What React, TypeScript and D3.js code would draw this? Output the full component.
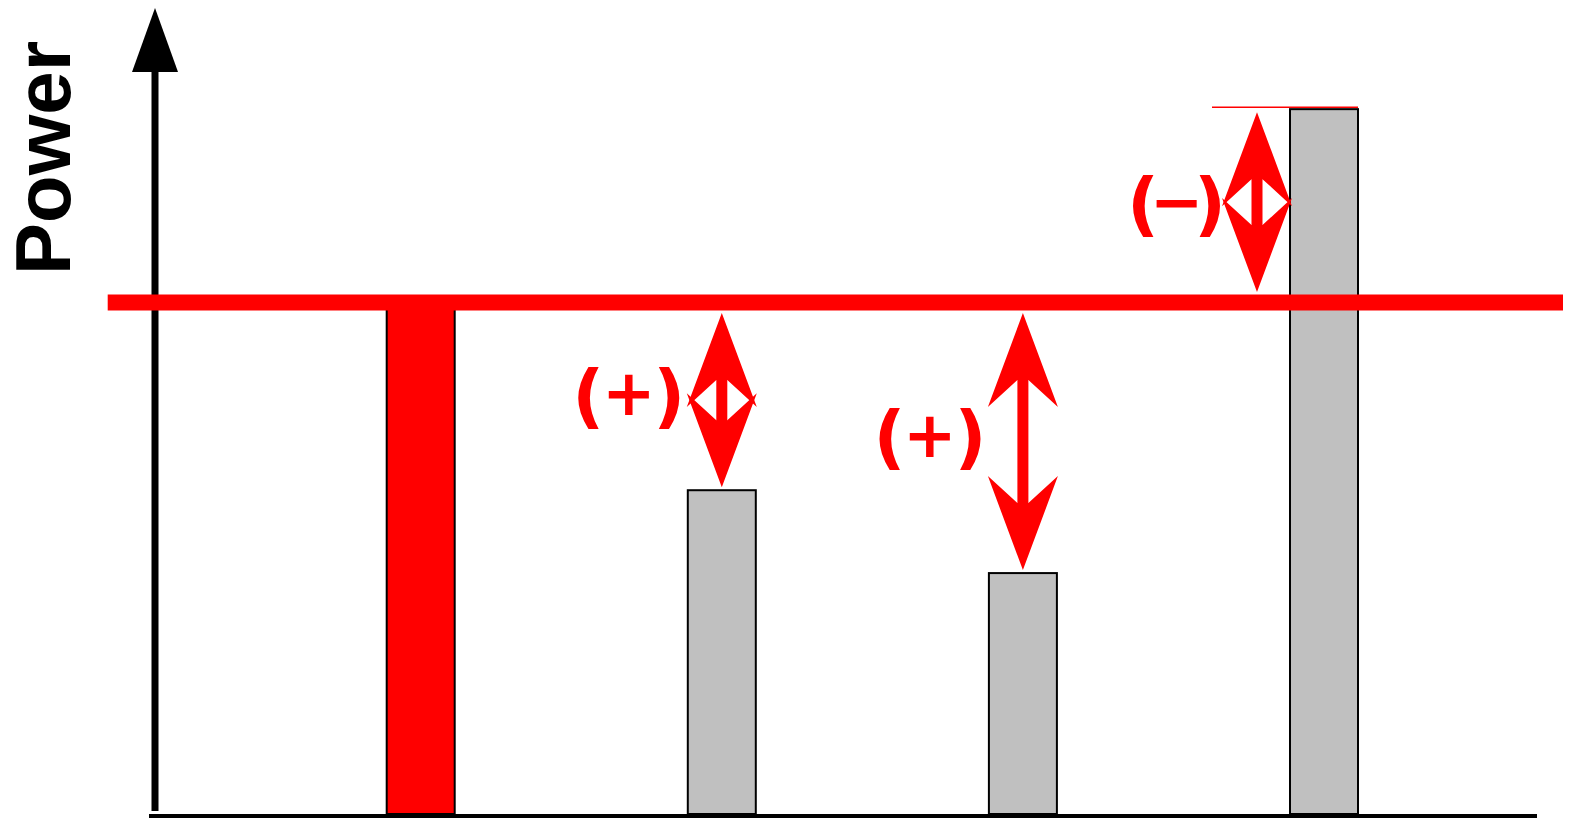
import React from 'react';
import * as d3 from 'd3';

// bars: the reference (red) and three measured cases
const categories = ['Ref', 'A', 'B', 'C'];
const powerValues = [100, 63.3, 47.1, 137.8];
const deltaSigns = ['', '+', '+', '−'];
const targetValue = 100;
const yLabel = 'Power';

const W = 1573;
const H = 818;

const x = d3.scalePoint<string>().domain(categories).range([420.7, 1324]);
const y = d3.scaleLinear().domain([0, targetValue]).range([814, 302.5]);

const barWidth = 68;
const lineThick = 16;

// double headed arrow, heads overlap when the arrow is short
const arrowParts = (cx: number, y0: number, y1: number) => {
  const hw = 35, hl = 94, nl = 67, sw = 5.5;
  const up = [[cx, y0], [cx + hw, y0 + hl], [cx + sw, y0 + nl], [cx - sw, y0 + nl], [cx - hw, y0 + hl]];
  const down = [[cx, y1], [cx + hw, y1 - hl], [cx + sw, y1 - nl], [cx - sw, y1 - nl], [cx - hw, y1 - hl]];
  const shaftTop = y0 + 40;
  const shaftBot = Math.max(shaftTop, y1 - 40);
  return { up, down, shaftTop, shaftBot, sw };
};

const pts = (p: number[][]) => p.map(d => d.join(',')).join(' ');

const parenSize = 70;
const signSize = 64;

const App = () => {
  const yT = y(targetValue);
  return (
    <svg width={W} height={H} style={{ position: 'absolute', left: 0, top: 0, background: '#fff' }}>
      {/* y axis with arrow */}
      <rect x={151.5} y={68} width={7} height={811 - 68} fill="#000" />
      <polygon points="132,72 178,72 155,8" fill="#000" />
      <text
        transform="translate(70,158) rotate(-90)"
        textAnchor="middle"
        fontFamily="Liberation Sans, Arial, sans-serif"
        fontWeight="bold"
        fontSize={78}
        fill="#000"
      >
        {yLabel}
      </text>

      {/* bars */}
      {categories.map((c, i) => (
        <rect
          key={c}
          x={x(c)! - barWidth / 2}
          y={y(powerValues[i])}
          width={barWidth}
          height={y(0) - y(powerValues[i])}
          fill={i === 0 ? '#ff0000' : '#c0c0c0'}
          stroke="#000"
          strokeWidth={2}
        />
      ))}

      {/* baseline */}
      <rect x={149} y={y(0)} width={1537 - 149} height={6} fill="#000" />

      {/* target line */}
      <rect x={107.7} y={yT - lineThick / 2} width={1563 - 107.7} height={lineThick} fill="#ff0000" />

      {/* deltas */}
      {categories.map((c, i) => {
        if (i === 0) return null;
        const v = powerValues[i];
        const over = v > targetValue;
        const cx = over ? x(c)! - 67 : x(c)!;
        const y0 = over ? y(v) + 3 : yT + lineThick / 2 + 2.5;
        const y1 = over ? yT - lineThick / 2 - 2.5 : y(v) - 3;
        const a = arrowParts(cx, y0, y1);
        const mid = (y0 + y1) / 2 + (over ? 4 : -2.5);
        const plus = deltaSigns[i] === '+';
        const rp = cx - (plus ? 52.5 : 47);
        const gap = plus ? 40.5 : 33.5;
        const txt = { fontFamily: 'DejaVu Sans, sans-serif', fontWeight: 'bold' as const, fill: '#ff0000', textAnchor: 'middle' as const };
        return (
          <g key={c}>
            {over && (
              <line x1={cx - 45} x2={x(c)! + barWidth / 2} y1={y(v) - 2} y2={y(v) - 2} stroke="#ff0000" strokeWidth={1.5} />
            )}
            <rect x={cx - a.sw} y={a.shaftTop} width={a.sw * 2} height={a.shaftBot - a.shaftTop} fill="#ff0000" />
            <polygon points={pts(a.up)} fill="#ff0000" />
            <polygon points={pts(a.down)} fill="#ff0000" />
            <text {...txt} x={rp - 2 * gap} y={mid + 0.315 * parenSize} fontSize={parenSize}>(</text>
            <text {...txt} x={rp - gap} y={mid - 3 + 0.32 * signSize} fontSize={signSize}>{deltaSigns[i]}</text>
            <text {...txt} x={rp} y={mid + 0.315 * parenSize} fontSize={parenSize}>)</text>
          </g>
        );
      })}
    </svg>
  );
};

export default App;
